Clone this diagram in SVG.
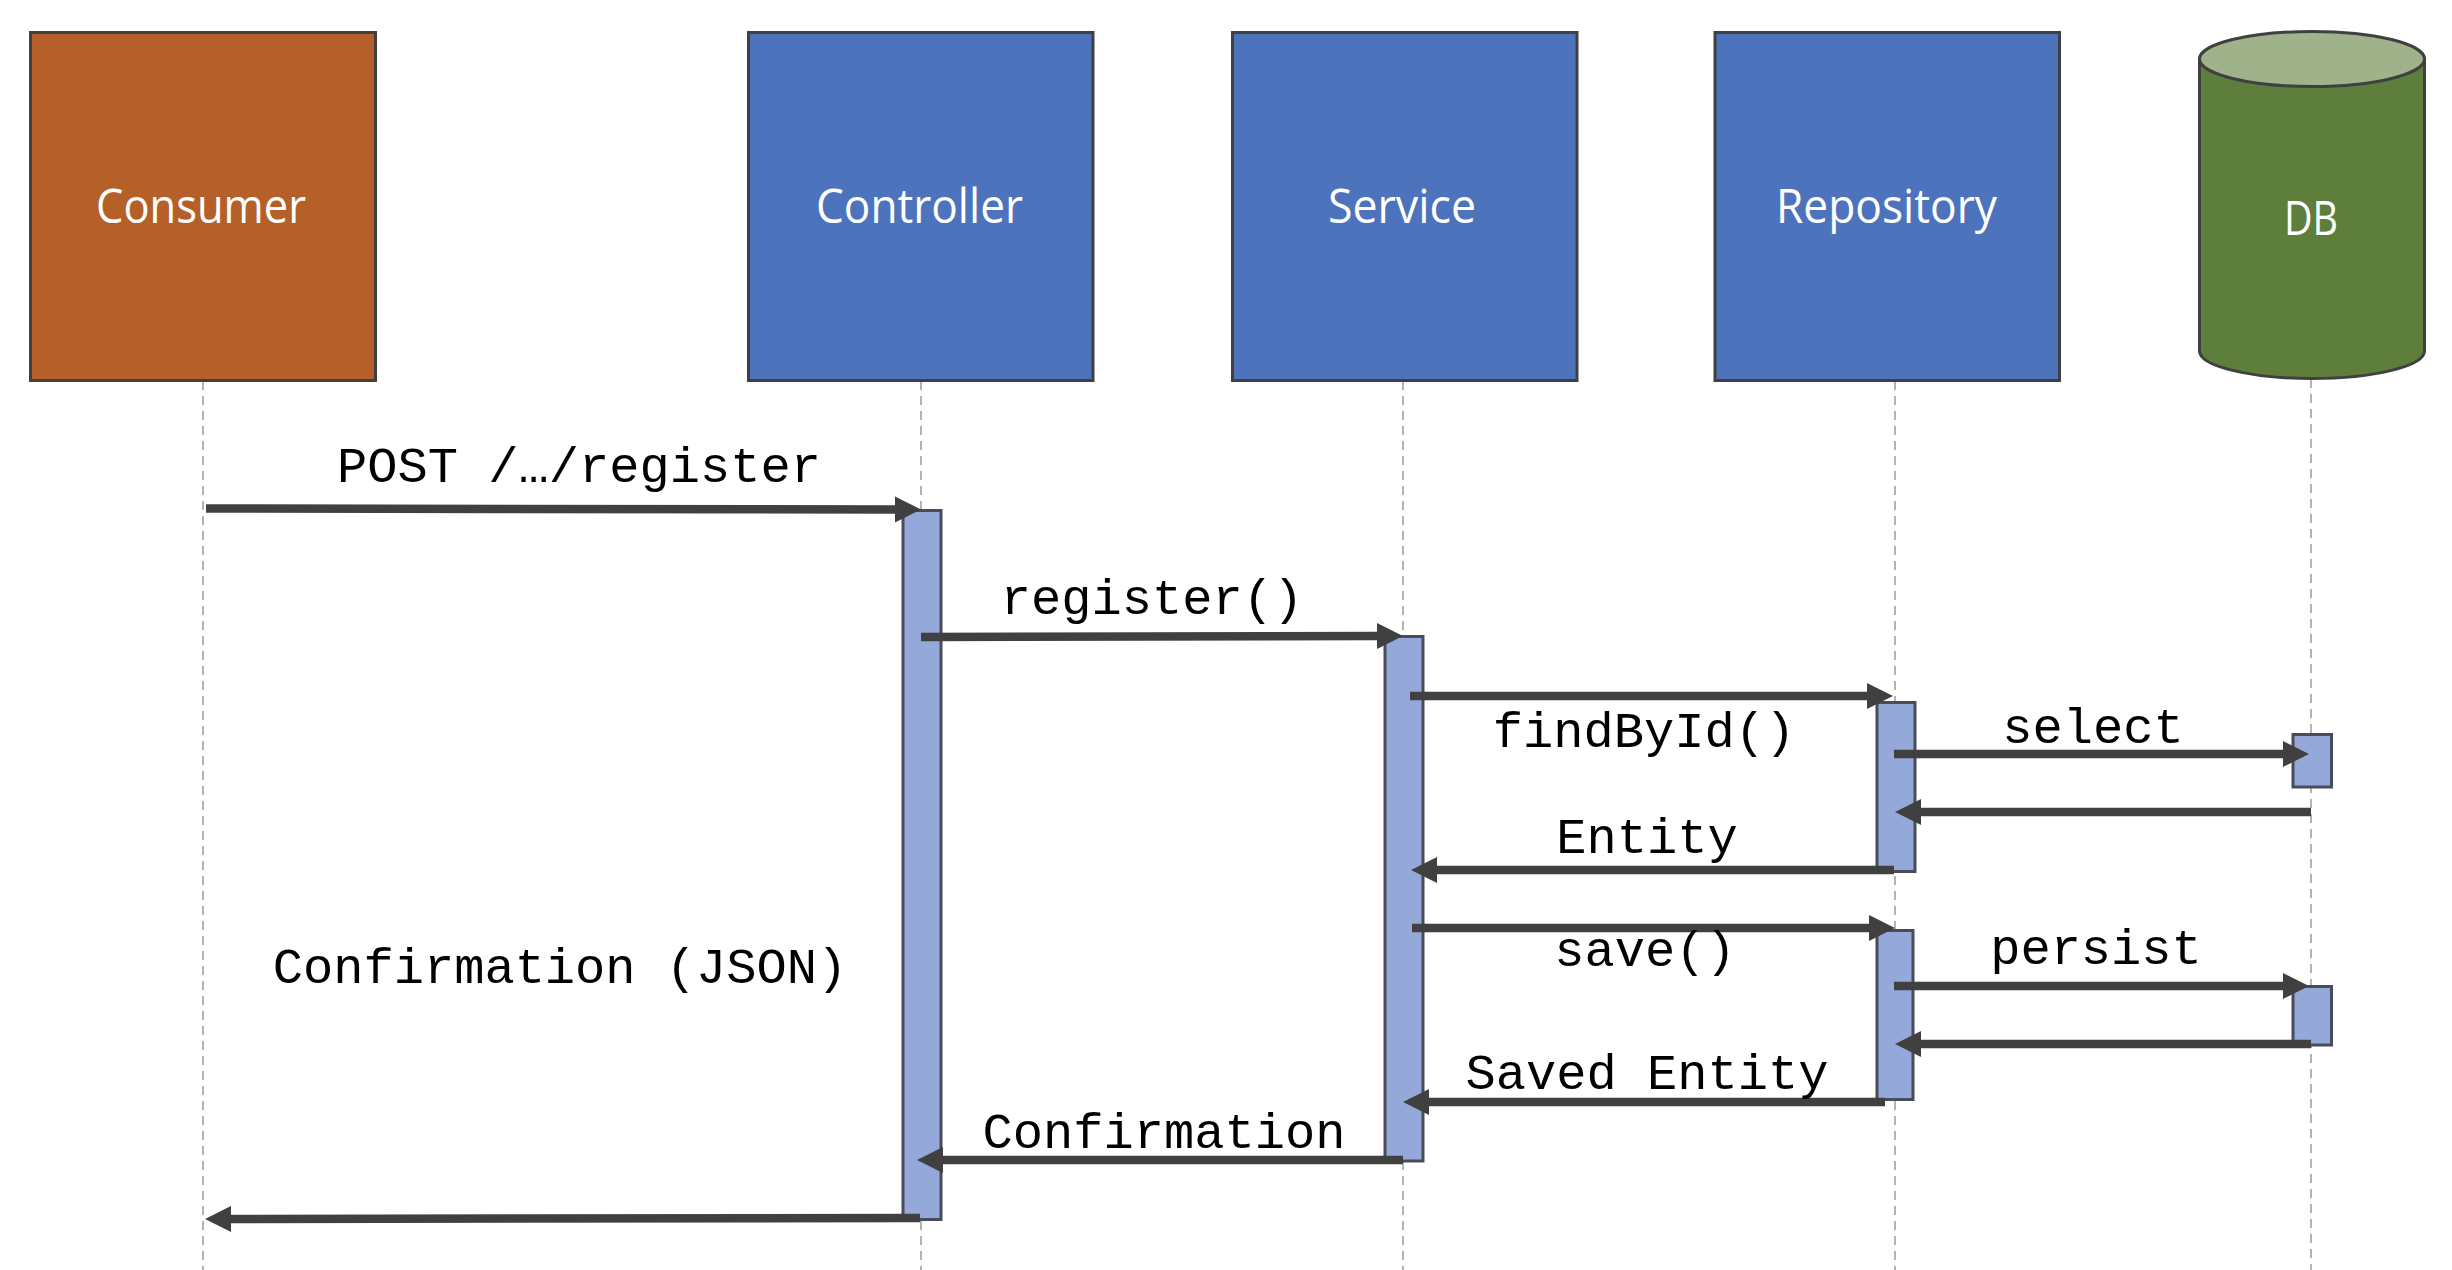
<svg xmlns="http://www.w3.org/2000/svg" width="2452" height="1270" viewBox="0 0 2452 1270">
<style>
.box{stroke:#404040;stroke-width:3}
.blue{fill:#4d73bc}
.orange{fill:#b56029}
.life{stroke:#8c8c8c;stroke-width:1.3;stroke-dasharray:9 6;fill:none}
.bar{fill:#94a9d9;stroke:#484c58;stroke-width:3}
.msg{stroke:#404040;stroke-width:8.5;fill:none;marker-end:url(#head)}
.name{font-family:"Open Sans","Noto Sans",sans-serif;font-size:48px;font-weight:500;fill:#fff}
.lbl{font-family:"Liberation Mono","Courier New",monospace;font-size:50.4px;fill:#000;text-anchor:middle}
</style>
<defs>
<marker id="head" markerUnits="userSpaceOnUse" markerWidth="28" markerHeight="28" refX="2" refY="13" orient="auto">
<path d="M0 0L26 13L0 26Z" fill="#404040"/>
</marker>
</defs>
<rect width="2452" height="1270" fill="#fff"/>
<g id="lifelines">
<line class="life" x1="203" y1="381" x2="203" y2="1270"/>
<line class="life" x1="921" y1="381" x2="921" y2="1270"/>
<line class="life" x1="1403" y1="381" x2="1403" y2="1270"/>
<line class="life" x1="1895" y1="381" x2="1895" y2="1270"/>
<line class="life" x1="2311" y1="379" x2="2311" y2="1270"/>
</g>
<g id="consumer"><rect class="box orange" x="30.5" y="32.5" width="345" height="348"/><text class="name" x="96" y="223" textLength="210" lengthAdjust="spacingAndGlyphs">Consumer</text></g>
<g id="controller"><rect class="box blue" x="748.5" y="32.5" width="344.5" height="348"/><text class="name" x="816" y="223" textLength="207" lengthAdjust="spacingAndGlyphs">Controller</text></g>
<g id="service"><rect class="box blue" x="1232.5" y="32.5" width="344.5" height="348"/><text class="name" x="1328" y="223" textLength="148" lengthAdjust="spacingAndGlyphs">Service</text></g>
<g id="repository"><rect class="box blue" x="1715" y="32.5" width="344.5" height="348"/><text class="name" x="1776" y="223" textLength="221" lengthAdjust="spacingAndGlyphs">Repository</text></g>
<g id="db">
<path class="box" fill="#5e7f3c" d="M2199.5 59V351C2199.5 366 2250 378.5 2312 378.5S2424.5 366 2424.5 351V59Z"/>
<ellipse class="box" fill="#9fb28a" cx="2312" cy="59" rx="112.5" ry="27.5"/>
<text class="name" x="2284" y="235" textLength="54" lengthAdjust="spacingAndGlyphs">DB</text>
</g>
<g id="activations">
<rect class="bar" x="903" y="510.5" width="38" height="709"/>
<rect class="bar" x="1385" y="636.5" width="38" height="524.5"/>
<rect class="bar" x="1877" y="702.5" width="38" height="169"/>
<rect class="bar" x="1877" y="930.5" width="36" height="169"/>
<rect class="bar" x="2293" y="734.5" width="38.5" height="52.5"/>
<rect class="bar" x="2293" y="986.5" width="38.5" height="58.5"/>
</g>
<g id="connectors">
<line class="msg" x1="206" y1="508.5" x2="897" y2="509.5"/>
<line class="msg" x1="921" y1="637" x2="1379" y2="636"/>
<line class="msg" x1="1410" y1="696" x2="1869" y2="696"/>
<line class="msg" x1="1894" y1="754" x2="2285" y2="754"/>
<line class="msg" x1="2311" y1="812" x2="1919" y2="812"/>
<line class="msg" x1="1894" y1="870" x2="1435" y2="870"/>
<line class="msg" x1="1412" y1="928" x2="1871" y2="928"/>
<line class="msg" x1="1894" y1="986" x2="2285" y2="986"/>
<line class="msg" x1="2311" y1="1044" x2="1919" y2="1044"/>
<line class="msg" x1="1885" y1="1102" x2="1427" y2="1102"/>
<line class="msg" x1="1403" y1="1160" x2="941" y2="1160"/>
<line class="msg" x1="920" y1="1218" x2="229" y2="1219"/>
</g>
<g id="labels">
<text class="lbl" x="579" y="482">POST /…/register</text>
<text class="lbl" x="1152" y="613.5">register()</text>
<text class="lbl" x="1644" y="747">findById()</text>
<text class="lbl" x="2093" y="743">select</text>
<text class="lbl" x="1647" y="852.5">Entity</text>
<text class="lbl" x="1645" y="966">save()</text>
<text class="lbl" x="2096" y="964">persist</text>
<text class="lbl" x="1647" y="1089">Saved Entity</text>
<text class="lbl" x="1164" y="1147.5">Confirmation</text>
<text class="lbl" x="560" y="983">Confirmation (JSON)</text>
</g>
</svg>
